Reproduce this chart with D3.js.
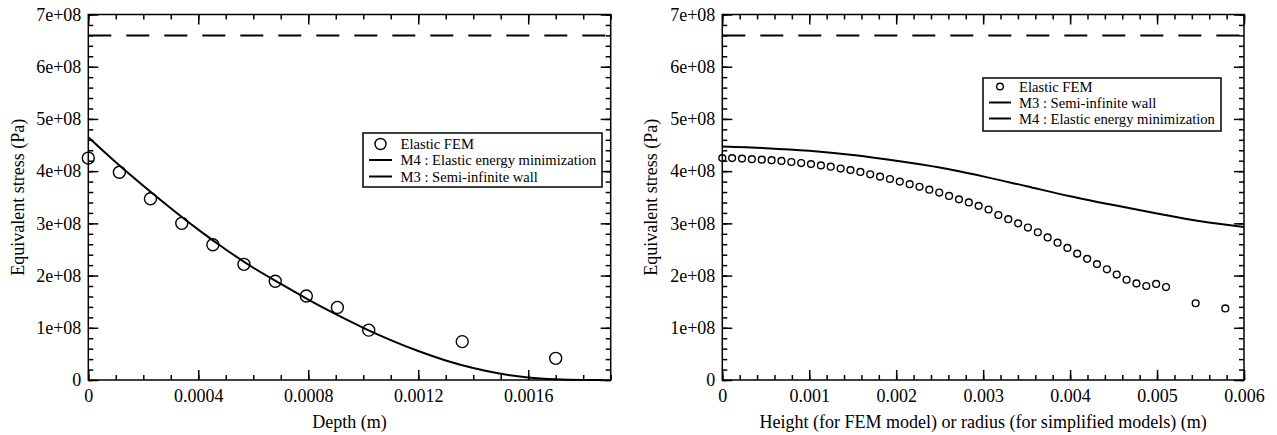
<!DOCTYPE html>
<html>
<head>
<meta charset="utf-8">
<script src="https://cdn.jsdelivr.net/npm/d3@7"></script>
<style>
  html, body { margin: 0; padding: 0; background: #fff; }
  svg { display: block; }
  text { font-family: "Liberation Serif", "Times New Roman", Times, serif; fill: #000; }
</style>
</head>
<body>
<svg id="chart" width="1277" height="435"></svg>
<script>
// ---------------- DATA ----------------
// Left panel: stress vs depth
const leftFemDepth = [0, 0.000113, 0.000226, 0.00034, 0.000453, 0.000566, 0.00068, 0.000793, 0.000906, 0.00102, 0.00136, 0.0017];
const leftFemStress = [4.25e8, 3.98e8, 3.47e8, 3.0e8, 2.59e8, 2.215e8, 1.89e8, 1.61e8, 1.39e8, 0.955e8, 0.735e8, 0.415e8];
const leftM4Depth = [0, 0.0001, 0.0002, 0.0003, 0.0004, 0.0005, 0.0006, 0.0007, 0.0008, 0.0009, 0.001, 0.0011, 0.0012, 0.0013, 0.0014, 0.0015, 0.0016, 0.0017, 0.0018, 0.00187];
const leftM4Stress = [4.65e8, 4.17e8, 3.72e8, 3.29e8, 2.88e8, 2.50e8, 2.15e8, 1.84e8, 1.54e8, 1.26e8, 1.00e8, 0.765e8, 0.555e8, 0.375e8, 0.23e8, 0.12e8, 0.05e8, 0.015e8, 0.002e8, 0];
const leftM3Stress = 6.6e8;

// Right panel: stress vs height / radius
const rightFemHeight = [0, 0.000113, 0.000227, 0.00034, 0.000454, 0.000567, 0.00068, 0.000794, 0.000907, 0.00102,
  0.001134, 0.001247, 0.001361, 0.001474, 0.001588, 0.001701, 0.001814, 0.001928, 0.002041, 0.002155,
  0.002268, 0.002381, 0.002495, 0.002608, 0.002722, 0.002835, 0.002948, 0.003062, 0.003175, 0.003289,
  0.003402, 0.003515, 0.003629, 0.003742, 0.003856, 0.003969, 0.004082, 0.004196, 0.004309, 0.004423,
  0.004536, 0.004649, 0.004763, 0.004876, 0.00499, 0.005103, 0.005444, 0.005785];
const rightFemStress = [4.25e8, 4.25e8, 4.24e8, 4.23e8, 4.22e8, 4.21e8, 4.195e8, 4.175e8, 4.155e8, 4.135e8,
  4.11e8, 4.085e8, 4.05e8, 4.02e8, 3.985e8, 3.94e8, 3.895e8, 3.85e8, 3.80e8, 3.75e8,
  3.70e8, 3.645e8, 3.59e8, 3.525e8, 3.46e8, 3.40e8, 3.335e8, 3.265e8, 3.16e8, 3.08e8,
  3.00e8, 2.92e8, 2.83e8, 2.73e8, 2.63e8, 2.53e8, 2.42e8, 2.32e8, 2.22e8, 2.12e8,
  2.02e8, 1.92e8, 1.85e8, 1.80e8, 1.84e8, 1.78e8, 1.47e8, 1.37e8];
const rightM3Radius = [0, 0.0005, 0.001, 0.0015, 0.002, 0.0025, 0.003, 0.0035, 0.004, 0.0045, 0.005, 0.0055, 0.006];
const rightM3Stress = [4.47e8, 4.44e8, 4.39e8, 4.31e8, 4.20e8, 4.07e8, 3.90e8, 3.71e8, 3.52e8, 3.35e8, 3.19e8, 3.04e8, 2.93e8];
const rightM4Stress = 6.6e8;

// Axis ticks and labels
const yTickValues = [0, 1e8, 2e8, 3e8, 4e8, 5e8, 6e8, 7e8];
const yTickLabels = ["0", "1e+08", "2e+08", "3e+08", "4e+08", "5e+08", "6e+08", "7e+08"];
const leftXTickValues = [0, 0.0004, 0.0008, 0.0012, 0.0016];
const leftXTickLabels = ["0", "0.0004", "0.0008", "0.0012", "0.0016"];
const rightXTickValues = [0, 0.001, 0.002, 0.003, 0.004, 0.005, 0.006];
const rightXTickLabels = ["0", "0.001", "0.002", "0.003", "0.004", "0.005", "0.006"];

// ---------------- DRAW ----------------
const svg = d3.select("#chart");
const FONT_TICK = 18;
const FONT_LEG = 14.6;
const SERIF = '"Liberation Serif", "Times New Roman", Times, serif';

function minorTicks(start, end, step) {
  const out = [];
  const n = Math.round((end - start) / step);
  for (let i = 0; i <= n; i++) out.push(start + i * step);
  return out;
}

function panel(cfg) {
  const g = svg.append("g");
  const x = d3.scaleLinear().domain(cfg.xDomain).range([cfg.left, cfg.right]);
  const y = d3.scaleLinear().domain([0, 7e8]).range([cfg.bottom, cfg.top]);

  const xMinor = minorTicks(cfg.xDomain[0], cfg.xDomain[1], cfg.xMinorStep);
  const yMinor = minorTicks(0, 7e8, 2e7);

  const styleAxis = sel => {
    sel.attr("font-family", SERIF);
    sel.select(".domain").remove();
    sel.selectAll(".tick line").attr("stroke", "#000").attr("stroke-width", 1.5);
    sel.selectAll(".tick text").style("font-size", FONT_TICK + "px").style("font-family", SERIF).attr("fill", "#000");
  };

  // minor ticks
  g.append("g").attr("transform", `translate(0,${cfg.bottom})`)
    .call(d3.axisBottom(x).tickValues(xMinor).tickSize(-5).tickFormat("")).call(styleAxis);
  g.append("g").attr("transform", `translate(0,${cfg.top})`)
    .call(d3.axisTop(x).tickValues(xMinor).tickSize(-5).tickFormat("")).call(styleAxis);
  g.append("g").attr("transform", `translate(${cfg.left},0)`)
    .call(d3.axisLeft(y).tickValues(yMinor).tickSize(-5).tickFormat("")).call(styleAxis);
  g.append("g").attr("transform", `translate(${cfg.right},0)`)
    .call(d3.axisRight(y).tickValues(yMinor).tickSize(-5).tickFormat("")).call(styleAxis);

  // major ticks
  g.append("g").attr("transform", `translate(0,${cfg.bottom})`)
    .call(d3.axisBottom(x).tickValues(cfg.xTicks).tickSizeInner(-10).tickSizeOuter(0).tickPadding(9)
      .tickFormat((d, i) => cfg.xLabels[i])).call(styleAxis);
  g.append("g").attr("transform", `translate(0,${cfg.top})`)
    .call(d3.axisTop(x).tickValues(cfg.xTicks).tickSize(-10).tickFormat("")).call(styleAxis);
  g.append("g").attr("transform", `translate(${cfg.left},0)`)
    .call(d3.axisLeft(y).tickValues(yTickValues).tickSizeInner(-10).tickSizeOuter(0).tickPadding(7)
      .tickFormat((d, i) => yTickLabels[i])).call(styleAxis);
  g.append("g").attr("transform", `translate(${cfg.right},0)`)
    .call(d3.axisRight(y).tickValues(yTickValues).tickSize(-10).tickFormat("")).call(styleAxis);

  // frame
  g.append("rect")
    .attr("x", cfg.left).attr("y", cfg.top)
    .attr("width", cfg.right - cfg.left).attr("height", cfg.bottom - cfg.top)
    .attr("fill", "none").attr("stroke", "#000").attr("stroke-width", 1.5);

  // axis titles
  g.append("text")
    .attr("x", (cfg.left + cfg.right) / 2).attr("y", 428)
    .attr("text-anchor", "middle").style("font-size", "18px").style("font-family", SERIF)
    .text(cfg.xTitle);
  g.append("text")
    .attr("transform", `translate(${cfg.yTitleX},${(cfg.top + cfg.bottom) / 2}) rotate(-90)`)
    .attr("text-anchor", "middle").style("font-size", "18px").style("font-family", SERIF)
    .text("Equivalent stress (Pa)");

  // dashed horizontal line
  g.append("line")
    .attr("x1", x(cfg.xDomain[0])).attr("x2", x(cfg.xDomain[1]))
    .attr("y1", y(cfg.dashValue)).attr("y2", y(cfg.dashValue))
    .attr("stroke", "#000").attr("stroke-width", 2).attr("stroke-dasharray", "23,15");

  // solid curve
  const line = d3.line().x(d => x(d[0])).y(d => y(d[1])).curve(d3.curveMonotoneX);
  g.append("path")
    .datum(d3.zip(cfg.curveX, cfg.curveY))
    .attr("d", line)
    .attr("fill", "none").attr("stroke", "#000").attr("stroke-width", 2);

  // FEM points
  g.selectAll("circle.fem")
    .data(d3.zip(cfg.femX, cfg.femY))
    .join("circle").attr("class", "fem")
    .attr("cx", d => x(d[0])).attr("cy", d => y(d[1])).attr("r", cfg.r)
    .attr("fill", "none").attr("stroke", "#000").attr("stroke-width", 1.4);

  // legend
  const L = cfg.legend;
  const lg = g.append("g");
  lg.append("rect").attr("x", L.x0).attr("y", L.y0).attr("width", L.x1 - L.x0).attr("height", L.y1 - L.y0)
    .attr("fill", "#fff").attr("stroke", "#000").attr("stroke-width", 1.5);
  L.items.forEach((it, i) => {
    const cy = L.rows[i];
    if (it.type === "circle") {
      lg.append("circle").attr("cx", (L.lx0 + L.lx1) / 2).attr("cy", cy).attr("r", L.r)
        .attr("fill", "none").attr("stroke", "#000").attr("stroke-width", 1.4);
    } else {
      lg.append("line").attr("x1", L.lx0).attr("x2", L.lx1).attr("y1", cy).attr("y2", cy)
        .attr("stroke", "#000").attr("stroke-width", 2)
        .attr("stroke-dasharray", it.type === "dash" ? "23,15" : null);
    }
    lg.append("text").attr("x", L.tx).attr("y", cy + 5)
      .style("font-size", FONT_LEG + "px").style("font-family", SERIF).text(it.label);
  });
}

panel({
  left: 88.3, right: 610.7, top: 14.5, bottom: 380,
  xDomain: [0, 0.0019], xMinorStep: 0.0001,
  xTicks: leftXTickValues, xLabels: leftXTickLabels,
  xTitle: "Depth (m)", yTitleX: 24,
  dashValue: leftM3Stress,
  curveX: leftM4Depth, curveY: leftM4Stress,
  femX: leftFemDepth, femY: leftFemStress, r: 6,
  legend: {
    x0: 363, x1: 602, y0: 133, y1: 187, rows: [144, 160, 176.5],
    lx0: 369, lx1: 392, tx: 400.5, r: 5.5,
    items: [
      { type: "circle", label: "Elastic FEM" },
      { type: "line", label: "M4 : Elastic energy minimization" },
      { type: "dash", label: "M3 : Semi-infinite wall" }
    ]
  }
});

panel({
  left: 722.3, right: 1244, top: 14.5, bottom: 380,
  xDomain: [0, 0.006], xMinorStep: 0.0002,
  xTicks: rightXTickValues, xLabels: rightXTickLabels,
  xTitle: "Height (for FEM model) or radius (for simplified models) (m)", yTitleX: 657,
  dashValue: rightM4Stress,
  curveX: rightM3Radius, curveY: rightM3Stress,
  femX: rightFemHeight, femY: rightFemStress, r: 3.4,
  legend: {
    x0: 983, x1: 1221, y0: 78, y1: 131, rows: [86.5, 102.5, 118.5],
    lx0: 989, lx1: 1011, tx: 1019, r: 3.3,
    items: [
      { type: "circle", label: "Elastic FEM" },
      { type: "line", label: "M3 : Semi-infinite wall" },
      { type: "dash", label: "M4 : Elastic energy minimization" }
    ]
  }
});
</script>
</body>
</html>
